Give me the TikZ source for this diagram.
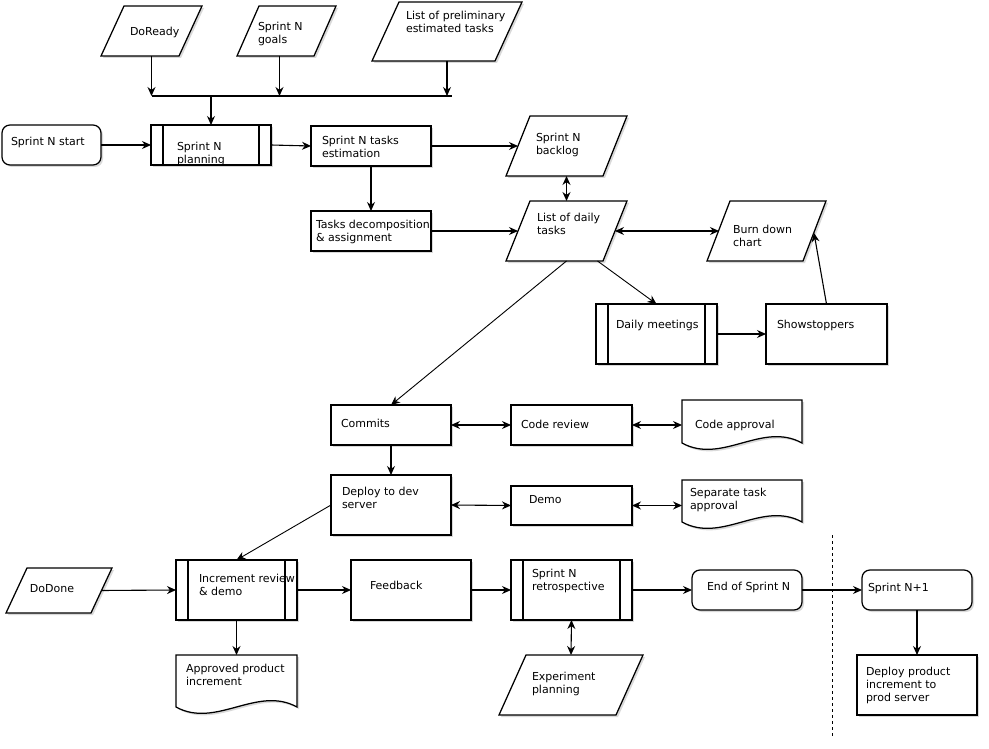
\documentclass[tikz,border=0pt]{standalone}
\usepackage{fontspec}
\setmainfont{DejaVu Sans}
\usetikzlibrary{arrows.meta,shadows,calc}
\newcommand\mkpara[2]{\draw[shp] ([xshift=#2pt]#1.north west) -- (#1.north east) -- ([xshift=-#2pt]#1.south east) -- (#1.south west) -- cycle;}
\newcommand\mkdoc[1]{\draw[shp] (#1.south west) -- (#1.north west) -- (#1.north east) -- (#1.south east) .. controls ([xshift=-40pt,yshift=22pt]#1.south east) and ([xshift=40pt,yshift=-22pt]#1.south west) .. (#1.south west) -- cycle;}
\begin{document}
\begin{tikzpicture}[x=1pt,y=-1pt,
  every node/.style={inner sep=0pt, outer sep=0pt},
  shad/.style={drop shadow={shadow xshift=2pt,shadow yshift=-2pt,opacity=0.15,fill=black}},
  shp/.style={draw=black, line width=1.25pt, fill=white, shad},
  rbox/.style={shp, rectangle},
  rrbox/.style={shp, rectangle, rounded corners=8pt},
  proc/.style={shp, rectangle, path picture={\draw[line width=1.1pt] ([xshift=12pt]path picture bounding box.north west) -- ([xshift=12pt]path picture bounding box.south west) ([xshift=-12pt]path picture bounding box.north east) -- ([xshift=-12pt]path picture bounding box.south east);}},
  bnd/.style={rectangle, draw=none},
  lbl/.style={anchor=north west, yshift=9.1pt, align=left, font=\fontsize{11}{13}\selectfont, execute at begin node=\strut},
  arr/.style={line width=1.1pt, -{Stealth[length=9pt,width=8pt]}},
  darr/.style={line width=1.1pt, {Stealth[length=9pt,width=8pt]}-{Stealth[length=9pt,width=8pt]}},
  ln/.style={line width=1.1pt},
]
\path[use as bounding box, fill=white] (0,0) rectangle (989,749);

% parallelogram bounds
\node[bnd, minimum width=101pt, minimum height=50pt] (dr) at (151.5,31) {};
\node[bnd, minimum width=99pt, minimum height=50pt] (gl) at (286.5,31) {};
\node[bnd, minimum width=150pt, minimum height=59pt] (lp) at (447,31.5) {};
\node[bnd, minimum width=121pt, minimum height=60pt] (bk) at (566.5,146) {};
\node[bnd, minimum width=121pt, minimum height=60pt] (dt) at (566.5,231) {};
\node[bnd, minimum width=119pt, minimum height=60pt] (bd) at (766.5,231) {};
\node[bnd, minimum width=106pt, minimum height=45pt] (dd) at (59,590.5) {};
\node[bnd, minimum width=144pt, minimum height=60pt] (ex) at (571,685) {};
% document bounds
\node[bnd, minimum width=120pt, minimum height=43pt] (ca) at (742,421.5) {};
\node[bnd, minimum width=120pt, minimum height=42pt] (sta) at (742,501) {};
\node[bnd, minimum width=121pt, minimum height=52pt] (ap) at (236.5,681) {};

\mkpara{dr}{23}
\mkpara{gl}{22}
\mkpara{lp}{27}
\mkpara{bk}{24}
\mkpara{dt}{24}
\mkpara{bd}{23}
\mkpara{dd}{21}
\mkpara{ex}{27}
\mkdoc{ca}
\mkdoc{sta}
\mkdoc{ap}

% boxes
\node[rrbox, minimum width=99pt, minimum height=40pt] (st) at (51.5,145) {};
\node[proc, minimum width=120pt, minimum height=40pt] (pl) at (211,145) {};
\node[rbox, minimum width=120pt, minimum height=40pt] (est) at (371,146) {};
\node[rbox, minimum width=120pt, minimum height=40pt] (dec) at (371,231) {};
\node[proc, minimum width=121pt, minimum height=60pt] (dm) at (656.5,334) {};
\node[rbox, minimum width=121pt, minimum height=60pt] (ss) at (826.5,334) {};
\node[rbox, minimum width=120pt, minimum height=40pt] (cm) at (391,425) {};
\node[rbox, minimum width=121pt, minimum height=40pt] (cr) at (571.5,425) {};
\node[rbox, minimum width=120pt, minimum height=60pt] (dp) at (391,505) {};
\node[rbox, minimum width=121pt, minimum height=39pt] (demo) at (571.5,505.5) {};
\node[proc, minimum width=121pt, minimum height=60pt] (inc) at (236.5,590) {};
\node[rbox, minimum width=120pt, minimum height=60pt] (fb) at (411,590) {};
\node[proc, minimum width=121pt, minimum height=60pt] (rt) at (571.5,590) {};
\node[rrbox, minimum width=110pt, minimum height=40pt] (en) at (747,590) {};
\node[rrbox, minimum width=110pt, minimum height=40pt] (n1) at (917,590) {};
\node[rbox, minimum width=120pt, minimum height=60pt] (dpp) at (917,685) {};

% connectors
\coordinate (barL) at (152,96);
\coordinate (barR) at (452,96);
\draw[ln] (barL) -- (barR);
\draw[arr] (dr.south) -- (dr.south |- barL);
\draw[arr] ([xshift=-7pt]gl.south) -- ([xshift=-7pt]gl.south |- barL);
\draw[arr] (lp.south) -- (lp.south |- barL);
\draw[arr] (pl.north |- barL) -- (pl.north);
\draw[arr] (st.east) -- (pl.west);
\draw[arr] (pl.east) -- (est.west);
\draw[arr] (est.east) -- ([xshift=12pt]bk.west);
\draw[arr] (est.south) -- (dec.north);
\draw[arr] (dec.east) -- ([xshift=12pt]dt.west);
\draw[darr] (bk.south) -- (dt.north);
\draw[darr] ([xshift=-12pt]dt.east) -- ([xshift=12pt]bd.west);
\draw[arr, line width=0.9pt] ([xshift=31pt]dt.south) -- (dm.north);
\draw[arr, line width=0.9pt] (dt.south) -- (cm.north);
\draw[arr] (dm.east) -- (ss.west);
\draw[arr] (ss.north) -- ([xshift=-12pt,yshift=-2pt]bd.east);
\draw[darr] (cm.east) -- (cr.west);
\draw[darr] (cr.east) -- (cr.east -| ca.west);
\draw[arr] (cm.south) -- (dp.north);
\draw[darr] (dp.east) -- (demo.west);
\draw[darr] (demo.east) -- (demo.east -| sta.west);
\draw[arr, line width=0.9pt] (dp.west) -- (inc.north);
\draw[arr] ([xshift=-11pt]dd.east) -- (inc.west);
\draw[arr] (inc.south) -- (ap.north);
\draw[arr] (inc.east) -- (fb.west);
\draw[arr] (fb.east) -- (rt.west);
\draw[darr] (rt.south) -- (ex.north);
\draw[arr] (rt.east) -- (en.west);
\draw[arr] (en.east) -- (n1.west);
\draw[arr] (n1.south) -- (dpp.north);
\coordinate (sepT) at (832,535);
\coordinate (sepB) at (832,736);
\draw[line width=1pt, dash pattern=on 3pt off 3pt] (sepT) -- (sepB);

% labels
\node[lbl] (t-dr) at (130,36) {DoReady};
\node[lbl] (t-gl) at (258,31) {Sprint N\\goals};
\node[lbl] (t-lp) at (406,20) {List of preliminary\\estimated tasks};
\node[lbl] (t-st) at (11,146) {Sprint N start};
\node[lbl] (t-pl) at (177,151) {Sprint N\\planning};
\node[lbl] (t-est) at (322,145) {Sprint N tasks\\estimation};
\node[lbl] (t-dec) at (316,229) {Tasks decomposition\\\& assignment};
\node[lbl] (t-bk) at (536,142) {Sprint N\\backlog};
\node[lbl] (t-dt) at (537,222) {List of daily\\tasks};
\node[lbl] (t-bd) at (733,234) {Burn down\\chart};
\node[lbl] (t-dm) at (616,328) {Daily meetings};
\node[lbl] (t-ss) at (777,328) {Showstoppers};
\node[lbl] (t-cm) at (341,427) {Commits};
\node[lbl] (t-cr) at (521,428) {Code review};
\node[lbl] (t-ca) at (695,428) {Code approval};
\node[lbl] (t-dp) at (342,496) {Deploy to dev\\server};
\node[lbl] (t-demo) at (529,503) {Demo};
\node[lbl] (t-sta) at (690,497) {Separate task\\approval};
\node[lbl] (t-dd) at (30,592) {DoDone};
\node[lbl] (t-inc) at (199,583) {Increment review\\\& demo};
\node[lbl] (t-fb) at (370,589) {Feedback};
\node[lbl] (t-ap) at (186,673) {Approved product\\increment};
\node[lbl] (t-rt) at (532,578) {Sprint N\\retrospective};
\node[lbl] (t-en) at (707,590) {End of Sprint N};
\node[lbl] (t-n1) at (868,591) {Sprint N+1};
\node[lbl] (t-ex) at (532,681) {Experiment\\planning};
\node[lbl] (t-dpp) at (866,676) {Deploy product\\increment to\\prod server};
\end{tikzpicture}
\end{document}
